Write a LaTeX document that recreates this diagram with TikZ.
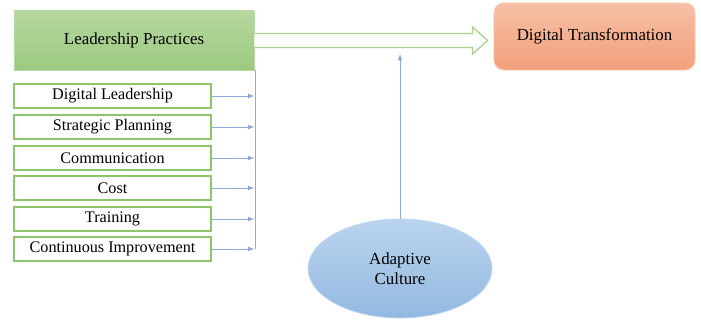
\documentclass[tikz,border=0pt]{standalone}
\usepackage{fontspec}
\setmainfont{Liberation Serif}
\usepackage{tikz}
\usetikzlibrary{arrows.meta,positioning,shapes.geometric,calc}

\definecolor{leadgreen}{HTML}{A9D18E}
\definecolor{leadgreendark}{HTML}{9CC97F}
\definecolor{boxgreen}{HTML}{8CC56A}
\definecolor{dtorange}{HTML}{F4B08E}
\definecolor{dtorangedark}{HTML}{F3A07C}
\definecolor{culblue}{HTML}{A9C9EA}
\definecolor{culbluedark}{HTML}{93B8E0}
\definecolor{linkblue}{HTML}{8EAADB}

\tikzset{
  practice/.style={draw=boxgreen, line width=0.8pt, fill=white, minimum width=4.925cm,
    minimum height=0.6cm, inner sep=0pt, font=\fontsize{11.5}{13}\selectfont},
  link/.style={draw=linkblue, line width=0.6pt},
  linkarrow/.style={link, -{Latex[length=1.6mm, width=1.2mm]}}
}

\begin{document}
\begin{tikzpicture}[x=0.025cm, y=-0.025cm]
\useasboundingbox (0,0) rectangle (701,320);

% Main construct
\node[draw=leadgreen!80, line width=0.6pt, top color=leadgreen!85!white, bottom color=leadgreendark,
  minimum width=6cm, minimum height=1.475cm, font=\fontsize{12}{14}\selectfont] (lp) at (134,40.5) {Leadership Practices};

% Outcome
\node[draw=dtorange!70, line width=0.6pt, rounded corners=0.25cm, top color=dtorange!80!white, bottom color=dtorangedark,
  minimum width=5.025cm, minimum height=1.675cm, font=\fontsize{12}{14}\selectfont] (dt) at (594.5,36.5) {Digital Transformation};

% Moderator
\node[ellipse, draw=culblue!70, line width=0.6pt, top color=culblue!80!white, bottom color=culbluedark,
  minimum width=4.6cm, minimum height=2.475cm, align=center, font=\fontsize{12}{14}\selectfont,
  inner sep=0pt] (ac) at (400,268.5) {Adaptive\\Culture};

% Practice dimensions
\node[practice] (dl) at (112.5,96) {Digital Leadership};
\node[practice] (sp) at (112.5,127) {Strategic Planning};
\node[practice] (cm) at (112.5,158) {Communication};
\node[practice] (co) at (112.5,188) {Cost};
\node[practice] (tr) at (112.5,219) {Training};
\node[practice] (ci) at (112.5,249) {Continuous Improvement};

% Collector line
\coordinate (bustop) at (lp.south east);
\coordinate (busend) at (lp.east |- ci.east);
\draw[link] ($(bustop)+(1,0)$) -- ($(busend)+(1,0)$);
\foreach \p in {dl,sp,cm,co,tr,ci}
  \draw[linkarrow] (\p.east) -- (\p.east -| lp.east);

% Wide arrow to outcome
\coordinate (wa) at (lp.east);
\coordinate (wb) at ($(dt.west |- lp.east)+(-6,0)$);
\draw[draw=leadgreen, line width=0.9pt, fill=white, line join=miter]
  ($(wa)+(0,-7)$) -- ($(wb)+(-15,-7)$) -- ($(wb)+(-15,-13.5)$) -- (wb)
  -- ($(wb)+(-15,13.5)$) -- ($(wb)+(-15,7)$) -- ($(wa)+(0,7)$);

% Culture arrow
\coordinate (cu) at (ac.north |- 0,54);
\draw[linkarrow] (ac.north) -- (cu);

\end{tikzpicture}
\end{document}
